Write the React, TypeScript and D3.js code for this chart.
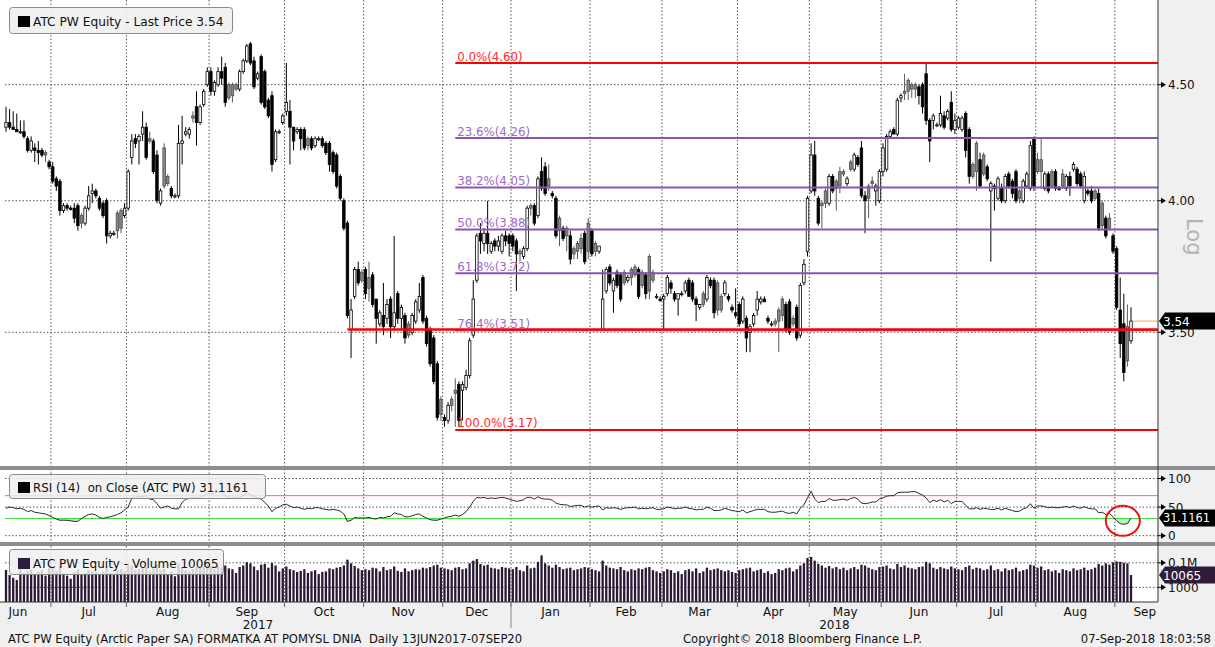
import React from "react";
import * as d3 from "d3";

type OHLC = [number, number, number, number];

// ---------- Daily candles [open, high, low, close] ----------
const jun2017: OHLC[] = [
  [4.31,4.40,4.29,4.33],[4.33,4.39,4.30,4.31],[4.31,4.38,4.30,4.30],[4.30,4.37,4.29,4.29],
  [4.29,4.34,4.28,4.29],[4.29,4.34,4.26,4.27],[4.26,4.27,4.20,4.21],[4.21,4.27,4.20,4.25],
  [4.22,4.24,4.16,4.21],[4.21,4.25,4.15,4.20],[4.21,4.22,4.18,4.19],[4.20,4.21,4.16,4.19],
  [4.16,4.17,4.13,4.14],
];
const jul2017: OHLC[] = [
  [4.14,4.16,4.07,4.08],[4.09,4.10,4.04,4.06],[4.08,4.09,3.94,3.96],[3.96,3.99,3.95,3.98],
  [3.98,3.99,3.96,3.97],[3.97,3.98,3.96,3.965],[3.97,3.99,3.91,3.93],[3.98,3.99,3.88,3.90],
  [3.94,3.95,3.89,3.91],[3.91,3.98,3.90,3.97],[3.97,4.06,3.96,4.02],[4.03,4.07,3.99,4.04],
  [4.04,4.05,4.01,4.02],[4.01,4.02,3.96,3.97],[3.99,4.00,3.93,3.94],[4.00,4.01,3.83,3.86],
  [3.86,3.88,3.85,3.87],[3.87,3.88,3.86,3.87],[3.95,3.96,3.85,3.88],[3.96,3.97,3.87,3.89],
  [3.94,3.99,3.93,3.97],
];
const aug2017: OHLC[] = [
  [3.97,4.13,3.96,4.12],[4.18,4.28,4.15,4.25],[4.26,4.28,4.22,4.24],[4.25,4.28,4.15,4.27],
  [4.28,4.38,4.25,4.31],[4.31,4.33,4.17,4.18],[4.26,4.29,4.24,4.25],[4.25,4.26,4.11,4.12],
  [4.19,4.21,3.99,4.00],[3.99,4.05,3.98,4.04],[4.22,4.24,4.05,4.06],[4.10,4.11,4.06,4.07],
  [4.05,4.06,4.01,4.02],[4.02,4.03,4.01,4.02],[4.02,4.32,4.01,4.24],[4.24,4.36,4.15,4.25],
  [4.28,4.31,4.27,4.29],[4.28,4.31,4.26,4.30],[4.36,4.38,4.33,4.35],[4.40,4.47,4.23,4.33],
  [4.33,4.41,4.32,4.40],[4.41,4.48,4.40,4.47],[4.50,4.58,4.49,4.56],
];
const sep2017: OHLC[] = [
  [4.56,4.58,4.45,4.47],[4.47,4.52,4.45,4.51],[4.50,4.58,4.49,4.56],[4.56,4.63,4.50,4.53],
  [4.58,4.60,4.40,4.42],[4.50,4.51,4.43,4.44],[4.50,4.51,4.42,4.45],[4.50,4.51,4.47,4.48],
  [4.48,4.57,4.47,4.56],[4.56,4.62,4.55,4.61],[4.61,4.69,4.60,4.68],[4.69,4.70,4.59,4.60],
  [4.61,4.63,4.48,4.49],[4.53,4.56,4.52,4.55],[4.63,4.64,4.41,4.42],[4.56,4.57,4.39,4.40],
  [4.43,4.44,4.35,4.36],[4.45,4.47,4.12,4.15],[4.17,4.30,4.16,4.29],[4.29,4.30,4.28,4.29],
  [4.33,4.37,4.32,4.36],
];
const oct2017: OHLC[] = [
  [4.38,4.60,4.36,4.42],[4.38,4.43,4.15,4.31],[4.31,4.31,4.21,4.25],[4.29,4.31,4.28,4.30],
  [4.30,4.31,4.21,4.26],[4.30,4.31,4.21,4.22],[4.26,4.27,4.21,4.23],[4.26,4.27,4.21,4.22],
  [4.23,4.27,4.22,4.26],[4.26,4.27,4.25,4.26],[4.26,4.27,4.22,4.23],[4.24,4.25,4.19,4.20],
  [4.24,4.25,4.12,4.15],[4.20,4.21,4.11,4.12],[4.19,4.20,4.05,4.06],[4.10,4.11,4.00,4.01],
  [4.00,4.01,3.88,3.89],[3.91,3.92,3.55,3.56],[3.51,3.62,3.41,3.58],[3.63,3.74,3.62,3.73],
  [3.73,3.76,3.67,3.68],[3.72,3.73,3.68,3.69],
];
const nov2017: OHLC[] = [
  [3.73,3.74,3.62,3.64],[3.70,3.76,3.61,3.66],[3.71,3.72,3.59,3.60],[3.62,3.62,3.46,3.55],
  [3.53,3.58,3.52,3.57],[3.56,3.68,3.49,3.52],[3.55,3.62,3.53,3.60],[3.62,3.63,3.48,3.52],
  [3.52,3.86,3.51,3.57],[3.64,3.65,3.53,3.55],[3.55,3.60,3.51,3.59],[3.56,3.57,3.46,3.48],
  [3.53,3.54,3.48,3.49],[3.50,3.57,3.49,3.56],[3.54,3.62,3.53,3.61],[3.58,3.68,3.57,3.63],
  [3.70,3.71,3.53,3.54],[3.55,3.56,3.45,3.46],[3.51,3.52,3.38,3.39],[3.48,3.49,3.32,3.33],
  [3.39,3.40,3.20,3.21],[3.27,3.28,3.20,3.22],
];
const dec2017: OHLC[] = [
  [3.21,3.22,3.18,3.20],[3.20,3.26,3.19,3.25],[3.27,3.28,3.23,3.25],[3.30,3.34,3.18,3.29],
  [3.32,3.33,3.18,3.20],[3.30,3.33,3.20,3.32],[3.31,3.37,3.30,3.35],[3.35,3.48,3.34,3.47],
  [3.49,3.69,3.48,3.62],[3.69,3.87,3.68,3.86],[3.87,3.91,3.79,3.84],[3.83,3.89,3.80,3.87],
  [3.87,4.00,3.79,3.83],[3.80,3.84,3.79,3.83],[3.84,3.85,3.80,3.82],[3.82,3.86,3.80,3.84],
  [3.80,3.87,3.79,3.86],[3.86,3.88,3.82,3.84],[3.86,3.87,3.78,3.83],
];
const jan2018: OHLC[] = [
  [3.86,3.87,3.80,3.82],[3.84,3.85,3.65,3.79],[3.80,3.81,3.76,3.79],[3.78,3.82,3.77,3.81],
  [3.81,3.98,3.80,3.97],[3.98,3.99,3.94,3.97],[3.98,3.99,3.90,3.91],[3.94,4.10,3.93,4.09],
  [4.12,4.18,4.04,4.05],[4.14,4.16,4.02,4.03],[4.09,4.15,4.04,4.06],[4.03,4.04,4.01,4.02],
  [4.01,4.02,3.85,3.86],[3.93,3.94,3.82,3.88],[3.89,3.90,3.84,3.85],[3.89,3.90,3.80,3.86],
  [3.86,3.88,3.75,3.77],[3.81,3.82,3.77,3.79],[3.83,3.84,3.77,3.80],[3.85,3.87,3.79,3.81],
  [3.87,3.88,3.75,3.76],[3.91,3.93,3.77,3.80],
];
const feb2018: OHLC[] = [
  [3.88,3.89,3.78,3.79],[3.83,3.84,3.78,3.80],[3.80,3.82,3.79,3.82],[3.51,3.73,3.51,3.62],
  [3.65,3.74,3.64,3.73],[3.74,3.75,3.67,3.68],[3.65,3.70,3.57,3.69],[3.72,3.73,3.66,3.67],
  [3.71,3.72,3.61,3.62],[3.72,3.73,3.67,3.68],[3.69,3.71,3.68,3.70],[3.73,3.74,3.67,3.70],
  [3.74,3.75,3.70,3.71],[3.73,3.74,3.62,3.63],[3.72,3.73,3.66,3.67],[3.71,3.72,3.62,3.64],
  [3.78,3.79,3.62,3.65],[3.72,3.73,3.68,3.69],[3.63,3.64,3.62,3.63],[3.62,3.63,3.61,3.615],
];
const mar2018: OHLC[] = [
  [3.62,3.64,3.51,3.63],[3.64,3.71,3.63,3.70],[3.68,3.69,3.64,3.66],[3.64,3.65,3.61,3.62],
  [3.62,3.64,3.56,3.64],[3.64,3.65,3.63,3.64],[3.65,3.69,3.64,3.68],[3.69,3.70,3.63,3.63],
  [3.68,3.69,3.61,3.62],[3.62,3.63,3.54,3.60],[3.59,3.60,3.58,3.60],[3.64,3.65,3.59,3.60],
  [3.62,3.71,3.61,3.70],[3.69,3.70,3.66,3.67],[3.69,3.70,3.55,3.57],[3.68,3.69,3.56,3.58],
  [3.63,3.64,3.57,3.58],[3.64,3.69,3.63,3.68],[3.63,3.64,3.61,3.62],[3.59,3.60,3.57,3.58],
  [3.57,3.66,3.55,3.56],
];
const apr2018: OHLC[] = [
  [3.60,3.61,3.52,3.53],[3.54,3.63,3.53,3.62],[3.55,3.56,3.43,3.48],[3.50,3.53,3.43,3.52],
  [3.53,3.57,3.52,3.56],[3.58,3.65,3.56,3.62],[3.61,3.63,3.60,3.62],[3.62,3.63,3.61,3.61],
  [3.55,3.56,3.53,3.54],[3.53,3.54,3.52,3.53],[3.54,3.55,3.52,3.53],[3.58,3.59,3.43,3.54],
  [3.62,3.63,3.54,3.56],[3.60,3.61,3.50,3.51],[3.61,3.62,3.49,3.50],[3.55,3.56,3.52,3.53],
  [3.59,3.60,3.47,3.48],[3.49,3.68,3.48,3.67],[3.68,3.77,3.67,3.75],[3.80,4.02,3.78,4.01],
];
const may2018: OHLC[] = [
  [4.04,4.24,4.03,4.19],[4.19,4.25,4.02,4.04],[4.01,4.02,3.90,3.91],[3.99,4.00,3.89,3.98],
  [4.04,4.05,3.97,3.99],[3.99,4.11,3.98,4.10],[4.10,4.11,4.03,4.04],[4.08,4.09,3.96,4.05],
  [4.12,4.14,4.03,4.06],[4.12,4.13,4.10,4.11],[4.07,4.10,4.06,4.09],[4.16,4.17,4.12,4.13],
  [4.13,4.20,4.12,4.19],[4.18,4.19,4.14,4.15],[4.22,4.25,4.01,4.02],[4.02,4.04,3.87,4.00],
  [4.06,4.07,3.93,4.01],[4.08,4.10,4.05,4.07],[4.04,4.07,3.98,4.06],[4.00,4.13,3.99,4.12],
];
const jun2018: OHLC[] = [
  [4.12,4.24,4.10,4.22],[4.13,4.28,4.12,4.27],[4.27,4.30,4.26,4.29],[4.30,4.31,4.28,4.28],
  [4.28,4.44,4.27,4.43],[4.44,4.46,4.42,4.45],[4.47,4.55,4.43,4.46],[4.52,4.53,4.43,4.47],
  [4.50,4.51,4.44,4.48],[4.50,4.51,4.44,4.48],[4.49,4.50,4.41,4.45],[4.50,4.51,4.37,4.40],
  [4.55,4.60,4.32,4.34],[4.34,4.35,4.16,4.25],[4.34,4.37,4.30,4.36],[4.32,4.33,4.31,4.32],
  [4.32,4.45,4.31,4.37],[4.36,4.38,4.30,4.31],[4.35,4.39,4.34,4.38],[4.42,4.47,4.29,4.30],
  [4.30,4.37,4.28,4.34],
];
const jul2018: OHLC[] = [
  [4.31,4.36,4.30,4.35],[4.30,4.36,4.29,4.35],[4.37,4.38,4.18,4.21],[4.30,4.31,4.07,4.10],
  [4.15,4.16,4.09,4.10],[4.24,4.25,4.04,4.12],[4.17,4.20,4.05,4.06],[4.19,4.20,4.10,4.11],
  [4.14,4.15,4.08,4.09],[4.04,4.08,3.76,4.07],[4.06,4.07,3.96,4.05],[4.01,4.10,4.00,4.09],
  [4.05,4.07,3.99,4.00],[4.00,4.11,3.99,4.10],[4.11,4.12,4.05,4.06],[4.08,4.09,4.01,4.03],
  [4.12,4.13,3.99,4.00],[4.04,4.05,3.99,4.01],[4.00,4.09,3.99,4.08],[4.06,4.12,4.05,4.11],
  [4.05,4.25,4.04,4.23],[4.26,4.27,4.04,4.06],
];
const aug2018: OHLC[] = [
  [4.17,4.20,4.11,4.12],[4.17,4.26,4.05,4.12],[4.05,4.12,4.04,4.11],[4.11,4.12,4.03,4.04],
  [4.12,4.13,4.05,4.06],[4.12,4.13,4.04,4.05],[4.05,4.06,4.04,4.05],[4.11,4.13,4.05,4.06],
  [4.05,4.11,4.04,4.10],[4.10,4.12,4.02,4.06],[4.13,4.16,4.12,4.15],[4.13,4.14,4.06,4.07],
  [4.11,4.12,4.05,4.06],[4.00,4.12,3.99,4.10],[4.04,4.05,4.02,4.03],[4.04,4.06,3.99,4.00],
  [4.04,4.05,4.00,4.01],[4.03,4.05,3.88,3.89],[3.99,4.00,3.88,3.90],[3.93,3.94,3.85,3.86],
  [3.93,3.95,3.88,3.89],[3.86,3.87,3.79,3.80],
];
const sep2018: OHLC[] = [
  [3.81,3.82,3.58,3.59],[3.58,3.70,3.41,3.46],[3.53,3.64,3.33,3.36],[3.52,3.60,3.38,3.40],
  [3.47,3.59,3.46,3.54],
];

// ---------- RSI(14) ----------
const rsiJun2017 = [48,50,49,47,48,46,42,44,41,40,39,38,35];
const rsiJul2017 = [32,29,27,27,27,26,25,25,30,34,37,38,36,32,30,32,33,35,37,40,45];
const rsiAug2017 = [50,66,68,68,68,70,64,63,56,48,50,52,48,47,47,58,64,65,66,66,67,70,74];
const rsiSep2017 = [73,74,76,76,70,66,66,67,68,70,75,72,68,66,64,58,52,42,48,50,54];
const rsiOct2017 = [55,52,49,50,48,46,48,47,49,49,47,46,45,46,45,43,38,25,27,32,31,31];
const rsiNov2017 = [31,32,30,29,32,31,33,34,40,38,37,33,33,35,37,38,34,31,28,27,27,29];
const rsiDec2017 = [31,33,34,36,34,37,42,50,60,67,66,67,65,66,65,66,67,66,64];
const rsiJan2018 = [62,60,61,63,67,67,64,68,65,64,64,62,57,55,54,54,51,52,53,53,50,52];
const rsiFeb2018 = [50,51,52,45,49,48,49,48,46,48,49,49,50,47,48,47,48,49,46,46];
const rsiMar2018 = [47,50,49,47,48,48,50,48,47,45,46,46,50,48,44,44,45,48,46,44,43];
const rsiApr2018 = [42,45,40,42,44,46,46,46,42,41,41,42,43,40,39,41,38,48,54,66];
const rsiMay2018 = [78,64,58,60,60,65,62,62,63,64,62,65,67,64,57,56,57,59,59,64];
const rsiJun2018 = [66,69,70,70,75,76,76,76,77,77,74,71,66,58,62,60,63,59,62,56,60];
const rsiJul2018 = [60,60,53,47,47,49,46,48,47,46,46,48,45,48,46,44,42,43,47,49,56,48];
const rsiAug2018 = [52,52,51,49,50,49,49,50,51,49,52,49,48,51,48,47,47,40,41,37,39,33];
const rsiSep2018 = [26,21,20,21,31.1161];

// ---------- Volume (thousands of shares) ----------
const volJun2017 = [26,10,6,4,30,15,22,28,12,18,25,9,40];
const volJul2017 = [35,22,60,14,9,5,18,30,12,15,25,20,18,12,20,55,15,10,25,30,22];
const volAug2017 = [80,60,25,30,40,45,20,35,70,25,30,12,20,8,90,45,25,20,30,45,40,60,75];
const volSep2017 = [45,30,55,40,60,35,30,15,45,60,110,90,50,25,70,80,40,95,60,20,35];
const volOct2017 = [50,30,25,18,22,30,15,20,25,12,18,20,35,30,40,45,60,180,90,55,35,25];
const volNov2017 = [30,25,40,35,20,45,25,30,50,22,18,35,20,25,30,28,40,35,45,60,70,40];
const volDec2017 = [35,30,25,40,45,30,35,90,150,200,80,60,70,40,35,30,45,40,35];
const volJan2018 = [30,45,25,20,60,35,40,120,400,90,60,40,70,45,30,35,40,25,30,35,45,40];
const volFeb2018 = [30,25,20,150,60,40,35,30,45,25,20,30,25,35,30,40,45,25,20,15];
const volMar2018 = [20,30,25,15,20,12,25,30,20,35,15,20,40,25,30,35,25,20,25,18,15];
const volApr2018 = [25,30,35,40,20,25,30,15,20,12,15,30,25,35,40,20,30,60,90,250];
const volMay2018 = [300,150,80,60,40,55,35,45,30,40,25,35,45,30,70,60,40,30,25,45];
const volJun2018 = [50,60,35,30,80,45,60,40,35,30,45,50,120,90,40,30,45,35,30,50,35];
const volJul2018 = [30,25,45,60,30,40,35,25,30,60,25,30,20,35,25,30,40,20,25,30,70,60];
const volAug2018 = [40,50,25,30,20,25,15,30,25,20,35,25,30,40,25,30,40,80,60,90,70,110];
const volSep2018 = [130,120,100,90,10.065];

// ---------- Calendar / annotations ----------
const startDate = new Date(2017, 5, 13);
const endDate = new Date(2018, 8, 7);
const holidays = ["2017-06-15","2017-12-25","2017-12-26","2018-01-01","2018-03-30","2018-04-02","2018-05-01","2018-05-03","2018-05-31","2018-08-15"];
const fibHigh = 4.60;
const fibLow = 3.17;
const fibLevels = [0, 0.236, 0.382, 0.5, 0.618, 0.764, 1];
const fibStartDate = "2017-12-06";
const supportLevel = 3.51;
const supportStartDate = "2017-10-25";
const priceTicks = [3.5, 4.0, 4.5];
const rsiTicks = [100, 50, 0];
const volTicks = [100000, 1000];
const lastPrice = 3.54;
const lastRsi = 31.1161;
const lastVolume = 10065;

const FONT = "'DejaVu Sans', Verdana, sans-serif";

export default function App() {
  const fmtDay = d3.timeFormat("%Y-%m-%d");
  const days = d3.timeDay
    .range(startDate, d3.timeDay.offset(endDate, 1))
    .filter((d) => d.getDay() !== 0 && d.getDay() !== 6 && !holidays.includes(fmtDay(d)));

  const candles: OHLC[] = ([] as OHLC[]).concat(
    jun2017, jul2017, aug2017, sep2017, oct2017, nov2017, dec2017,
    jan2018, feb2018, mar2018, apr2018, may2018, jun2018, jul2018, aug2018, sep2018
  );
  const rsi: number[] = ([] as number[]).concat(
    rsiJun2017, rsiJul2017, rsiAug2017, rsiSep2017, rsiOct2017, rsiNov2017, rsiDec2017,
    rsiJan2018, rsiFeb2018, rsiMar2018, rsiApr2018, rsiMay2018, rsiJun2018, rsiJul2018, rsiAug2018, rsiSep2018
  );
  const vol: number[] = ([] as number[]).concat(
    volJun2017, volJul2017, volAug2017, volSep2017, volOct2017, volNov2017, volDec2017,
    volJan2018, volFeb2018, volMar2018, volApr2018, volMay2018, volJun2018, volJul2018, volAug2018, volSep2018
  ).map((v) => v * 1000);

  const n = Math.min(days.length, candles.length);
  const x = d3.scaleLinear().domain([0, n - 1]).range([6, 1131]);
  const yP = d3.scaleLog().domain([3.059, 4.879]).range([465, 5]);
  const yR = d3.scaleLinear().domain([0, 100]).range([535.7, 478.5]);
  const yV = d3.scaleLog().domain([64, 1.6e6]).range([602, 548]);

  const plotR = 1158;

  // month groups
  const monthKey = d3.timeFormat("%Y-%m");
  const groups: { key: string; start: number; end: number; date: Date }[] = [];
  days.slice(0, n).forEach((d, i) => {
    const k = monthKey(d);
    const g = groups[groups.length - 1];
    if (g && g.key === k) g.end = i;
    else groups.push({ key: k, start: i, end: i, date: d });
  });
  const boundaries = groups.slice(1).map((g) => x(g.start - 0.5));
  const monthLabelX = groups.map((g, gi) => {
    const a = x(g.start - 0.5), b = x(g.end + 0.5);
    if (gi === 0) return b - 33;
    if (gi === groups.length - 1) return a + 30;
    return (a + b) / 2;
  });
  const yearBoundaryIdx = groups.findIndex((g) => g.date.getFullYear() === 2018);
  const yearBoundaryX = x(groups[yearBoundaryIdx].start - 0.5);

  const idxOf = (s: string) => days.findIndex((d) => fmtDay(d) === s);
  const fibX0 = x(idxOf(fibStartDate));
  const supportX0 = x(idxOf(supportStartDate));

  const bw = 2.5;
  const candleEls = candles.slice(0, n).map((c, i) => {
    const [o, h, l, cl] = c;
    const prev = i > 0 ? candles[i - 1][3] : o;
    const up = cl >= o;
    const kind = up ? "up" : cl >= prev ? "grey" : "down";
    const fill = kind === "up" ? "#ffffff" : kind === "grey" ? "#8a8a8a" : "#000000";
    const stroke = kind === "grey" ? "#4a4a4a" : "#000000";
    const xi = x(i);
    const yTop = yP(Math.max(o, cl));
    const yBot = yP(Math.min(o, cl));
    return (
      <g key={i}>
        <line x1={xi} x2={xi} y1={yP(h)} y2={yP(l)} stroke={kind === "grey" ? "#5a5a5a" : "#000"} strokeWidth={1} />
        <rect x={xi - bw / 2} y={yTop} width={bw} height={Math.max(1, yBot - yTop)} fill={fill} stroke={stroke} strokeWidth={0.8} />
      </g>
    );
  });

  const rsiLine = d3.line<number>().x((_, i) => x(i)).y((v) => yR(v))(rsi.slice(0, n)) || "";
  const rsiLowArea = d3.area<number>().x((_, i) => x(i)).y0(yR(30)).y1((v) => yR(Math.min(v, 30)))(rsi.slice(0, n)) || "";

  const fibColor = (p: number) => (p === 0 || p === 1 ? "#ff0000" : "#8c55ad");
  const fibTextColor = (p: number) => (p === 0 || p === 1 ? "#ff2a2a" : "#9a6cc6");

  const arrow = (y: number, key: string) => (
    <g key={key}>
      <line x1={plotR} x2={plotR + 6} y1={y} y2={y} stroke="#000" strokeWidth={1} />
      <path d={`M${plotR + 3},${y - 3} L${plotR + 8},${y} L${plotR + 3},${y + 3} Z`} fill="#000" />
    </g>
  );

  const tag = (y: number, text: string, fill: string, fs: number) => (
    <g>
      <path d={`M${plotR + 1},${y} L${plotR + 7},${y - 8.5} L1215,${y - 8.5} L1215,${y + 8.5} L${plotR + 7},${y + 8.5} Z`} fill={fill} />
      <text x={plotR + 5} y={y + 4.5} fontSize={fs} fill="#fff">{text}</text>
    </g>
  );

  const dotted = { stroke: "#555", strokeWidth: 1, strokeDasharray: "1.5,2" };

  return (
    <svg width={1215} height={647} style={{ position: "absolute", left: 0, top: 0, display: "block" }} fontFamily={FONT}>
      <rect width={1215} height={647} fill="#f0f0f0" />
      <rect x={0} y={0} width={plotR} height={602} fill="#ffffff" />

      {/* vertical month gridlines */}
      {boundaries.map((bx, i) => (
        <line key={"vg" + i} x1={bx} x2={bx} y1={0} y2={602} {...dotted} />
      ))}
      {/* price gridlines */}
      {priceTicks.map((p) => (
        <line key={"pg" + p} x1={5} x2={plotR} y1={yP(p)} y2={yP(p)} {...dotted} />
      ))}
      {/* RSI gridlines */}
      {rsiTicks.map((v) => (
        <line key={"rg" + v} x1={5} x2={plotR} y1={yR(v)} y2={yR(v)} {...dotted} />
      ))}
      {/* Volume gridlines */}
      {volTicks.map((v) => (
        <line key={"vgl" + v} x1={5} x2={plotR} y1={yV(v)} y2={yV(v)} {...dotted} />
      ))}

      {/* candles */}
      {candleEls}

      {/* fibonacci retracement */}
      {fibLevels.map((p) => {
        const price = fibHigh - p * (fibHigh - fibLow);
        const y = yP(price);
        return (
          <g key={"fib" + p}>
            <line x1={fibX0} x2={plotR} y1={y} y2={y} stroke={fibColor(p)} strokeWidth={2} />
            <text x={fibX0 + 2} y={y - 2.5} fontSize={11.8} fill={fibTextColor(p)}>
              {`${(p * 100).toFixed(1)}%(${price.toFixed(2)})`}
            </text>
          </g>
        );
      })}
      <line x1={supportX0} x2={plotR} y1={yP(supportLevel)} y2={yP(supportLevel)} stroke="#ff0000" strokeWidth={2.5} />

      {/* last price line */}
      <line x1={x(n - 1) + 2} x2={plotR} y1={yP(lastPrice)} y2={yP(lastPrice)} stroke="#f5b867" strokeWidth={1.2} />

      {/* RSI */}
      <path d={rsiLowArea} fill="#b8f2b0" />
      <line x1={5} x2={plotR} y1={yR(70)} y2={yR(70)} stroke="#ff6666" strokeWidth={1} />
      <line x1={5} x2={plotR} y1={yR(30)} y2={yR(30)} stroke="#3fdc3f" strokeWidth={1} />
      <path d={rsiLine} fill="none" stroke="#2a2a2a" strokeWidth={1} />
      <ellipse cx={x(n - 3) - 1} cy={yR(26)} rx={17} ry={15} fill="none" stroke="#ee1111" strokeWidth={2} />

      {/* Volume bars */}
      {vol.slice(0, n).map((v, i) => (
        <rect key={"vb" + i} x={x(i) - 1.15} y={yV(v)} width={2.3} height={602 - yV(v)} fill="#2b1a36" />
      ))}

      {/* separators & axes */}
      <rect x={0} y={466} width={1215} height={4} fill="#8e8e8e" />
      <rect x={0} y={542} width={1215} height={4} fill="#8e8e8e" />
      <line x1={plotR} x2={plotR} y1={0} y2={602} stroke="#333" strokeWidth={1} />
      <line x1={0} x2={plotR} y1={602} y2={602} stroke="#333" strokeWidth={1} />

      {/* legend boxes */}
      <rect x={9.5} y={7.5} width={223} height={26} rx={3} fill="rgba(240,240,240,0.9)" stroke="#8a8a8a" />
      <rect x={18} y={16} width={12} height={11} fill="#000" />
      <text x={33} y={26} fontSize={12.2} fill="#111">ATC PW Equity - Last Price {lastPrice.toFixed(2)}</text>

      <rect x={9.5} y={474.5} width={256} height={24} rx={3} fill="rgba(240,240,240,0.85)" stroke="#8a8a8a" />
      <rect x={18} y={482} width={12} height={11} fill="#000" />
      <text x={33} y={492} fontSize={11.8} fill="#111" style={{ whiteSpace: "pre" }}>{`RSI (14)  on Close (ATC PW) ${lastRsi}`}</text>

      <rect x={9.5} y={549.5} width={214} height={25} rx={3} fill="rgba(240,240,240,0.85)" stroke="#8a8a8a" />
      <rect x={18} y={558} width={12} height={11} fill="#2d1d3b" />
      <text x={33} y={568} fontSize={12} fill="#111">ATC PW Equity - Volume {lastVolume}</text>

      {/* right axis labels */}
      {priceTicks.map((p) => (
        <g key={"pl" + p}>
          {arrow(yP(p), "pa" + p)}
          <text x={plotR + 10} y={yP(p) + 4.5} fontSize={12} fill="#111">{p.toFixed(2)}</text>
        </g>
      ))}
      <text transform={`translate(1187,218) rotate(90)`} fontSize={21} fill="#b4b4b4">Log</text>
      {tag(yP(lastPrice), lastPrice.toFixed(2), "#000", 12)}

      {rsiTicks.map((v) => (
        <g key={"rl" + v}>
          {arrow(yR(v), "ra" + v)}
          <text x={plotR + 10} y={yR(v) + 4.5} fontSize={12} fill="#111">{v}</text>
        </g>
      ))}
      {tag(yR(lastRsi), String(lastRsi), "#000", 11.4)}

      {volTicks.map((v) => (
        <g key={"vl" + v}>
          {arrow(yV(v), "va" + v)}
          <text x={plotR + 10} y={yV(v) + 4.5} fontSize={12} fill="#111">{v >= 100000 ? "0.1M" : String(v)}</text>
        </g>
      ))}
      {tag(yV(lastVolume), String(lastVolume), "#2d1d3b", 12)}

      {/* x axis */}
      {boundaries.map((bx, i) => (
        <line key={"tk" + i} x1={bx} x2={bx} y1={602} y2={607} stroke="#666" strokeWidth={1} />
      ))}
      <line x1={yearBoundaryX} x2={yearBoundaryX} y1={602} y2={628} stroke="#888" strokeWidth={1} />
      {groups.map((g, i) => (
        <text key={"ml" + i} x={monthLabelX[i]} y={616} fontSize={12} textAnchor="middle" fill="#111">
          {d3.timeFormat("%b")(g.date)}
        </text>
      ))}
      <text x={(5 + yearBoundaryX) / 2} y={629} fontSize={12} textAnchor="middle" fill="#111">2017</text>
      <text x={(yearBoundaryX + plotR) / 2} y={629} fontSize={12} textAnchor="middle" fill="#111">2018</text>

      {/* footer */}
      <text x={8} y={643} fontSize={11.6} fill="#111" style={{ whiteSpace: "pre" }}>
        {"ATC PW Equity (Arctic Paper SA) FORMATKA AT POMYSL DNIA  Daily 13JUN2017-07SEP20"}
      </text>
      <text x={683} y={643} fontSize={11.6} fill="#111">Copyright© 2018 Bloomberg Finance L.P.</text>
      <text x={1211} y={643} fontSize={11.6} fill="#111" textAnchor="end">07-Sep-2018 18:03:58</text>
    </svg>
  );
}
